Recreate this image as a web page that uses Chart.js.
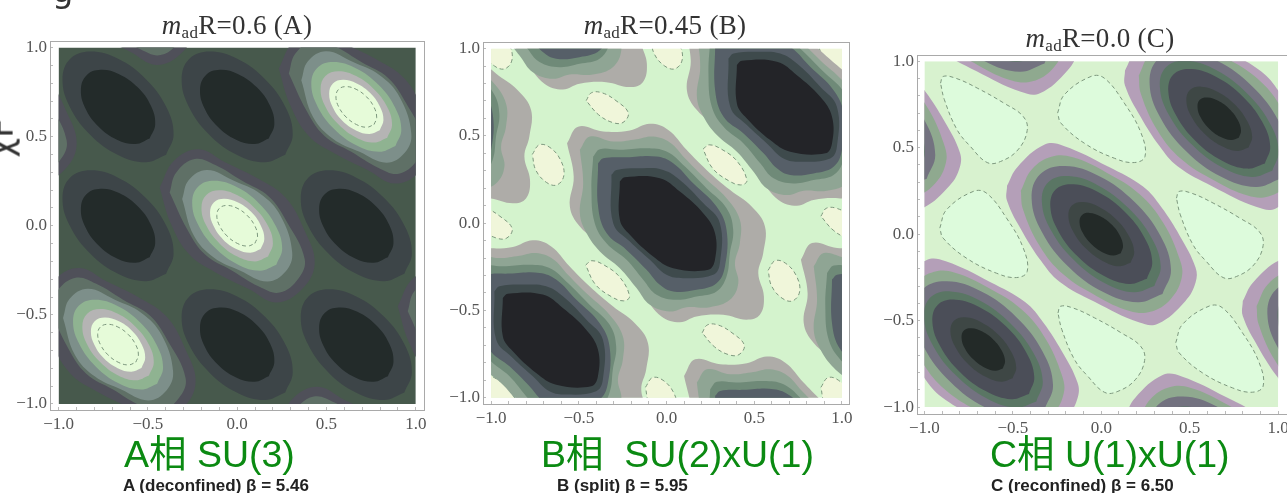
<!DOCTYPE html>
<html>
<head>
<meta charset="utf-8">
<script src="https://cdn.jsdelivr.net/npm/chart.js@4"></script>
<style>
  html, body { margin: 0; background: #fff; overflow: hidden; }
  #page { position: relative; width: 1287px; height: 493px; overflow: hidden; }
  canvas { position: absolute; filter: blur(0.6px); }
  .titulo, .fase, .beta, .resto { position: absolute; white-space: pre; line-height: 1; }
  .titulo { font: 27px "Liberation Serif"; letter-spacing: 0.3px; color: #333; transform: translateX(-50%); filter: blur(0.4px); }
  .titulo sub { font-size: 17px; line-height: 0; vertical-align: -4px; }
  .fase { font: 37.5px "Liberation Sans", "Noto Sans CJK JP"; color: #0b8a12; }
  .beta { font: bold 17px "Liberation Sans"; color: #222; filter: blur(0.4px); }
  .resto { font: 34px "DejaVu Sans"; color: #333; }
</style>
</head>
<body>
<div id="page">
  <canvas id="painel-a"></canvas>
  <canvas id="painel-b"></canvas>
  <canvas id="painel-c"></canvas>

  <div class="titulo" style="left:237px;top:10px"><i>m</i><sub>ad</sub>R=0.6 (A)</div>
  <div class="titulo" style="left:665px;top:10px"><i>m</i><sub>ad</sub>R=0.45 (B)</div>
  <div class="titulo" style="left:1100px;top:23px"><i>m</i><sub>ad</sub>R=0.0 (C)</div>

  <div class="fase" style="left:124px;top:423px">A相 SU(3)</div>
  <div class="fase" style="left:541px;top:423px">B相  SU(2)xU(1)</div>
  <div class="fase" style="left:990px;top:423px">C相 U(1)xU(1)</div>

  <div class="beta" style="left:123px;top:476px">A (deconfined) β = 5.46</div>
  <div class="beta" style="left:557px;top:476px">B (split) β = 5.95</div>
  <div class="beta" style="left:991px;top:476px">C (reconfined) β = 6.50</div>

  <div class="resto" style="left:52px;top:-30px">g</div>
  <div class="resto" style="left:-19px;top:118px;transform:rotate(-90deg)">χF</div>
</div>

<script>
// Marcas dos eixos
const eixoTicks = [-1.0, -0.5, 0.0, 0.5, 1.0];
const eixoMenores = [-1.0, -0.9, -0.8, -0.7, -0.6, -0.5, -0.4, -0.3, -0.2, -0.1, 0.0, 0.1, 0.2, 0.3, 0.4, 0.5, 0.6, 0.7, 0.8, 0.9, 1.0];

// Centros dos poços / picos (mesma rede nos tres paineis)
const centrosRede = [[0, 0], [0.667, 0.667], [-0.667, -0.667], [-1.333, 0.667], [1.333, -0.667], [-0.667, 1.333], [0.667, -1.333]];
const centrosOutros = [[-0.667, 0.667], [0, 0.667], [-0.667, 0], [0.667, 0], [0, -0.667], [0.667, -0.667]];

// Painel A - contornos do pico
const aPicoRoxo = [[-.434,.215],[-.354,.365],[-.215,.43],[-.065,.355],[.121,.262],[.27,.159],[.374,-.019],[.434,-.215],[.354,-.365],[.215,-.43],[.065,-.355],[-.121,-.262],[-.27,-.159],[-.374,.019]];
const aPicoCinza = [[-.378,.187],[-.342,.298],[-.238,.375],[-.122,.341],[.028,.252],[.178,.163],[.28,.019],[.378,-.187],[.342,-.298],[.238,-.375],[.122,-.341],[-.028,-.252],[-.178,-.163],[-.28,-.019]];
const aPicoPontos = [[-.308,.15],[-.271,.257],[-.168,.313],[-.018,.252],[.131,.178],[.243,.055],[.308,-.15],[.271,-.257],[.168,-.313],[.018,-.252],[-.131,-.178],[-.243,-.055]];
const aPicoVerde = [[.219,-.219],[.252,-.128],[.217,-.003],[.124,.124],[-.003,.217],[-.128,.252],[-.219,.219],[-.252,.128],[-.217,.003],[-.124,-.124],[.003,-.217],[.128,-.252]];
const aPicoClaro = [[.173,-.173],[.2,-.1],[.173,-.001],[.099,.099],[-.001,.173],[-.1,.2],[-.173,.173],[-.2,.1],[-.173,.001],[-.099,-.099],[.001,-.173],[.1,-.2]];
const aPicoTopo = [[.131,-.131],[.152,-.074],[.132,.002],[.078,.078],[.002,.132],[-.074,.152],[-.131,.131],[-.152,.074],[-.132,-.002],[-.078,-.078],[-.002,-.132],[.074,-.152]];
const aPicoTraco = [[.099,-.099],[.114,-.058],[.099,-.001],[.057,.057],[-.001,.099],[-.058,.114],[-.099,.099],[-.114,.058],[-.099,.001],[-.057,-.057],[.001,-.099],[.058,-.114]];
// Painel A - contornos do poço
const aPocoAnel = [[.269,-.269],[.311,-.155],[.27,0],[.156,.156],[0,.27],[-.155,.311],[-.269,.269],[-.311,.155],[-.27,0],[-.156,-.156],[0,-.27],[.155,-.311]];
const aPocoFundo = [[.177,-.177],[.208,-.098],[.184,.006],[.11,.11],[.006,.184],[-.098,.208],[-.177,.177],[-.208,.098],[-.184,-.006],[-.11,-.11],[-.006,-.184],[.098,-.208]];

// Painel B - contornos do poço
const bNivel1 = [[-.567,.458],[-.504,.553],[-.361,.525],[-.209,.531],[-.095,.569],[.01,.534],[.114,.42],[.228,.305],[.361,.191],[.485,.095],[.561,-.019],[.551,-.172],[.523,-.286],[.555,-.42],[.532,-.525],[.456,-.553],[.323,-.525],[.171,-.534],[.076,-.567],[-.029,-.534],[-.133,-.41],[-.228,-.286],[-.361,-.134],[-.494,-.019],[-.551,.095],[-.529,.267]];
const bNivel2 = [[-.494,.42],[-.437,.496],[-.304,.468],[-.171,.481],[-.076,.496],[.019,.462],[.105,.372],[.209,.267],[.342,.143],[.418,.019],[.418,-.115],[.39,-.229],[.409,-.344],[.361,-.439],[.247,-.481],[.114,-.481],[.019,-.506],[-.095,-.468],[-.171,-.372],[-.266,-.258],[-.38,-.162],[-.456,-.057],[-.494,.057],[-.475,.229]];
const bNivel3 = [[-.418,.382],[-.38,.424],[-.266,.42],[-.114,.429],[0,.41],[.105,.324],[.228,.2],[.342,.086],[.38,-.038],[.361,-.172],[.342,-.305],[.285,-.391],[.171,-.42],[.057,-.439],[-.057,-.41],[-.133,-.324],[-.228,-.21],[-.342,-.115],[-.409,0],[-.428,.191]];
const bNivel4 = [[-.39,.344],[-.361,.372],[-.228,.378],[-.057,.382],[.038,.344],[.152,.229],[.285,.095],[.342,-.038],[.333,-.248],[.285,-.344],[.171,-.382],[.038,-.391],[-.038,-.353],[-.114,-.267],[-.228,-.153],[-.342,-.057],[-.39,.095]];
const bNivel5 = [[-.314,.277],[-.285,.305],[-.133,.315],[-.019,.305],[.076,.248],[.209,.115],[.304,0],[.304,-.229],[.266,-.296],[.095,-.315],[0,-.296],[-.095,-.21],[-.209,-.105],[-.304,0]];
const bNivel6 = [[-.266,.239],[-.238,.263],[-.038,.258],[.076,.181],[.209,.057],[.276,-.057],[.276,-.21],[.238,-.267],[.038,-.258],[-.076,-.191],[-.209,-.067],[-.266,.019]];
// Painel B - ovais amarelas
const bOvalRasa = [[-.12,.04],[-.09,.085],[-.03,.085],[.05,.04],[.12,-.03],[.09,-.085],[.03,-.085],[-.05,-.04]];
const bOvalLonga = [[-.125,.09],[-.09,.115],[-.02,.09],[.07,.02],[.125,-.09],[.09,-.115],[.02,-.09],[-.07,-.02]];
const bOvalIngreme = [[-.09,.06],[-.05,.115],[.01,.1],[.07,.03],[.09,-.06],[.05,-.115],[-.01,-.1],[-.07,-.03]];
const bCentrosRasa = [[-.338,.662], [.323,-.668], [-1,0], [1,0]];
const bCentrosLonga = [[.333,.334], [-.336,-.33], [.97,.97], [-.97,-.97]];
const bCentrosIngreme = [[-.675,.334], [.669,-.33], [0,1], [-.03,-1], [-.97,1], [.97,-1]];

// Painel C - contornos do poço
const cNivel1 = [[-.533,.28],[-.476,.386],[-.32,.518],[-.212,.51],[.038,.391],[.236,.275],[.34,.155],[.444,-.01],[.533,-.193],[.533,-.28],[.476,-.386],[.32,-.518],[.212,-.51],[-.038,-.391],[-.236,-.275],[-.34,-.155],[-.444,.01],[-.533,.193]];
const cNivel2 = [[-.455,.251],[-.392,.376],[-.278,.449],[-.16,.444],[.028,.357],[.217,.231],[.349,.067],[.443,-.144],[.455,-.251],[.392,-.376],[.278,-.449],[.16,-.444],[-.028,-.357],[-.217,-.231],[-.349,-.067],[-.443,.144]];
const cNivel3 = [[.346,-.346],[.394,-.206],[.335,-.011],[.187,.187],[-.011,.335],[-.206,.394],[-.346,.346],[-.394,.206],[-.335,.011],[-.187,-.187],[.011,-.335],[.206,-.394]];
const cNivel4 = [[.3,-.3],[.336,-.184],[.282,-.018],[.152,.152],[-.018,.282],[-.184,.336],[-.3,.3],[-.336,.184],[-.282,.018],[-.152,-.152],[.018,-.282],[.184,-.336]];
const cNivel5 = [[.258,-.258],[.288,-.158],[.242,-.016],[.131,.131],[-.016,.242],[-.158,.288],[-.258,.258],[-.288,.158],[-.242,.016],[-.131,-.131],[.016,-.242],[.158,-.288]];
const cNivel6 = [[.166,-.166],[.186,-.102],[.156,-.01],[.085,.085],[-.01,.156],[-.102,.186],[-.166,.166],[-.186,.102],[-.156,.01],[-.085,-.085],[.01,-.156],[.102,-.186]];
const cNivel7 = [[.11,-.11],[.123,-.067],[.104,-.006],[.057,.057],[-.006,.104],[-.067,.123],[-.11,.11],[-.123,.067],[-.104,.006],[-.057,-.057],[.006,-.104],[.067,-.123]];
// Painel C - lobos claros
const cLoboA = [[-.243,.208],[-.228,.247],[-.158,.237],[-.036,.18],[.115,.093],[.225,.015],[.247,-.066],[.194,-.178],[.096,-.245],[.021,-.251],[-.074,-.158],[-.149,-.062],[-.221,.112]];
const cLoboB = [[-.247,.035],[-.209,.141],[-.058,.247],[.017,.237],[.13,.093],[.225,-.081],[.247,-.216],[.187,-.251],[.074,-.226],[-.096,-.139],[-.228,-.023]];
const cCentrosLoboA = [[-.666,.665], [.668,0], [-.002,-.664]];
const cCentrosLoboB = [[0,.665], [-.666,0], [.668,-.663]];

const quadrado = [[-1,-1],[1,-1],[1,1],[-1,1]];

// fecha o contorno e desloca para cada centro
function contornos(forma, centros, estilo) {
  return centros.map(c => {
    const pontos = forma.concat([forma[0]]).map(p => ({ x: p[0] + c[0], y: p[1] + c[1] }));
    return Object.assign({
      data: pontos,
      showLine: true,
      pointRadius: 0,
      borderWidth: 0,
      tension: 0.4,
      fill: 'shape'
    }, estilo);
  });
}

function nivel(forma, centros, cor) {
  return contornos(forma, centros, { backgroundColor: cor, borderColor: cor });
}

function traco(forma, centros, cor) {
  return contornos(forma, centros, { backgroundColor: cor, borderColor: '#7d987e', borderWidth: 1, borderDash: [4, 3] });
}

function fundo(cor) {
  return contornos(quadrado, [[0, 0]], { backgroundColor: cor, borderColor: cor, tension: 0 });
}

// corta o contorno no quadrado -1..1, a moldura fica fora dele
const cortePlugin = {
  id: 'corte',
  beforeDatasetsDraw(chart) {
    const { x, y } = chart.scales;
    const ctx = chart.ctx;
    ctx.save();
    ctx.beginPath();
    ctx.rect(x.getPixelForValue(-1), y.getPixelForValue(1), x.getPixelForValue(1) - x.getPixelForValue(-1), y.getPixelForValue(-1) - y.getPixelForValue(1));
    ctx.clip();
  },
  afterDatasetsDraw(chart) {
    chart.ctx.restore();
  }
};

function eixo(min, max, padding) {
  return {
    type: 'linear',
    min,
    max,
    afterBuildTicks: scale => { scale.ticks = eixoMenores.map(v => ({ value: v })); },
    ticks: {
      autoSkip: false,
      maxRotation: 0,
      padding,
      color: '#555',
      font: { family: 'Liberation Serif', size: 17 },
      callback: v => eixoTicks.some(t => Math.abs(t - v) < 0.001) ? Number(v).toFixed(1).replace('-', '\u2212') : ''
    },
    grid: { drawOnChartArea: false, color: '#bbb', tickLength: -3 },
    border: { color: '#a9a9a9', width: 1 }
  };
}

// box = moldura em pixels, xRange/yRange = limites da moldura em unidades do grafico
function criarPainel(id, box, xRange, yRange, datasets) {
  const canvas = document.getElementById(id);
  const margemE = 48, margemB = 28, margemT = 6, margemD = 12;
  canvas.style.left = (box.left - margemE) + 'px';
  canvas.style.top = (box.top - margemT) + 'px';
  canvas.width = box.width + margemE + margemD;
  canvas.height = box.height + margemT + margemB;
  canvas.style.width = canvas.width + 'px';
  canvas.style.height = canvas.height + 'px';

  const x = eixo(xRange[0], xRange[1], 7);
  const y = eixo(yRange[0], yRange[1], 6);
  const espelho = (escala) => Object.assign({}, escala, {
    ticks: { display: false },
    grid: { display: false },
    border: { color: '#a9a9a9', width: 1 }
  });
  // tira o padding automatico dos rotulos, senao a moldura encolhe
  const semPadding = s => { s.paddingTop = 0; s.paddingBottom = 0; s.paddingLeft = 0; s.paddingRight = 0; };
  x.afterFit = s => { s.height = margemB; semPadding(s); };
  y.afterFit = s => { s.width = margemE; semPadding(s); };

  return new Chart(canvas, {
    type: 'scatter',
    // o primeiro dataset fica por cima no Chart.js, entao inverte
    data: { datasets: datasets.slice().reverse() },
    options: {
      responsive: false,
      animation: false,
      layout: { padding: { top: margemT, right: margemD } },
      scales: {
        x,
        y,
        x2: Object.assign(espelho(x), { position: 'top', afterFit: s => { s.height = 0; semPadding(s); } }),
        y2: Object.assign(espelho(y), { position: 'right', afterFit: s => { s.width = 0; semPadding(s); } })
      },
      plugins: { legend: { display: false }, tooltip: { enabled: false }, title: { display: false } }
    },
    plugins: [cortePlugin]
  });
}

const dadosA = [].concat(
  fundo('#47594c'),
  nivel(aPocoAnel, centrosOutros, '#3d4548'),
  nivel(aPocoFundo, centrosOutros, '#232b2a'),
  nivel(aPicoRoxo, centrosRede, '#4f5059'),
  nivel(aPicoCinza, centrosRede, '#5f7066'),
  nivel(aPicoPontos, centrosRede, '#7d8f8a'),
  nivel(aPicoVerde, centrosRede, '#8fb391'),
  nivel(aPicoClaro, centrosRede, '#b5b4b4'),
  nivel(aPicoTopo, centrosRede, '#e6fbd9'),
  traco(aPicoTraco, centrosRede, 'rgba(0,0,0,0)')
);

const dadosB = [].concat(
  fundo('#d4f3cd'),
  traco(bOvalRasa, bCentrosRasa, '#f0f6da'),
  traco(bOvalLonga, bCentrosLonga, '#f0f6da'),
  traco(bOvalIngreme, bCentrosIngreme, '#f0f6da'),
  nivel(bNivel1, centrosRede, '#aeaca8'),
  nivel(bNivel2, centrosRede, '#8fa594'),
  nivel(bNivel3, centrosRede, '#6f8a78'),
  nivel(bNivel4, centrosRede, '#565f68'),
  nivel(bNivel5, centrosRede, '#3e4a4c'),
  nivel(bNivel6, centrosRede, '#232428')
);

const dadosC = [].concat(
  fundo('#d8f2cf'),
  traco(cLoboA, cCentrosLoboA, '#ddfbdc'),
  traco(cLoboB, cCentrosLoboB, '#ddfbdc'),
  nivel(cNivel1, centrosRede, '#b49fb8'),
  nivel(cNivel2, centrosRede, '#8fa98f'),
  nivel(cNivel3, centrosRede, '#737280'),
  nivel(cNivel4, centrosRede, '#5a7664'),
  nivel(cNivel5, centrosRede, '#4b4e58'),
  nivel(cNivel6, centrosRede, '#3e4745'),
  nivel(cNivel7, centrosRede, '#232a28')
);

criarPainel('painel-a', { left: 50, top: 41, width: 374, height: 369 }, [-1.048, 1.046], [-1.034, 1.037], dadosA);
criarPainel('painel-b', { left: 483, top: 42, width: 366, height: 362 }, [-1.046, 1.04], [-1.036, 1.038], dadosB);
criarPainel('painel-c', { left: 917, top: 55, width: 370, height: 359 }, [-1.042, 1.05], [-1.04, 1.036], dadosC);
</script>
</body>
</html>
